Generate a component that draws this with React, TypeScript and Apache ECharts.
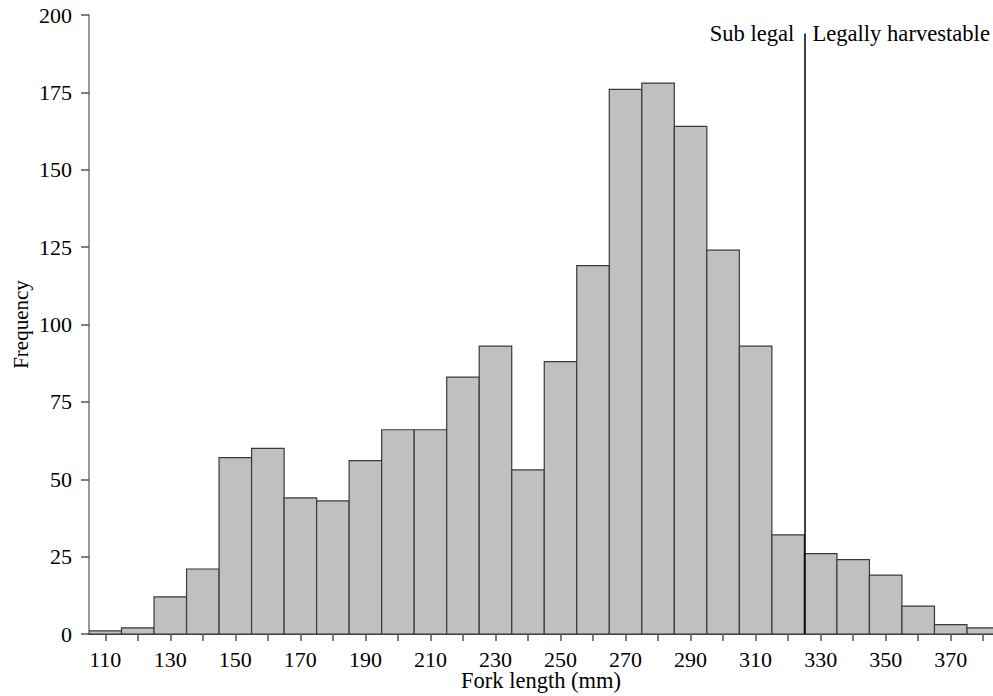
import React, { useEffect, useRef } from "react";
import * as echarts from "echarts";

const binStarts = [105, 115, 125, 135, 145, 155, 165, 175, 185, 195, 205, 215, 225, 235, 245, 255, 265, 275, 285, 295, 305, 315, 325, 335, 345, 355, 365, 375];
const binWidth = 10;
const frequencies = [1, 2, 12, 21, 57, 60, 44, 43, 56, 66, 66, 83, 93, 53, 88, 119, 176, 178, 164, 124, 93, 32, 26, 24, 19, 9, 3, 2];
const xTicks = [110, 120, 130, 140, 150, 160, 170, 180, 190, 200, 210, 220, 230, 240, 250, 260, 270, 280, 290, 300, 310, 320, 330, 340, 350, 360, 370, 380];
const xLabels = [110, 130, 150, 170, 190, 210, 230, 250, 270, 290, 310, 330, 350, 370];
const legalLimit = 325;
const legalLineTop = 194;
const leftText = "Sub legal";
const rightText = "Legally harvestable";

const FONT = "'Liberation Serif', 'Times New Roman', serif";

export default function App() {
  const ref = useRef<HTMLDivElement>(null);
  useEffect(() => {
    if (!ref.current) return;
    const chart = echarts.init(ref.current, null, { renderer: "svg" });
    const data = binStarts.map((s, i) => [s, s + binWidth, frequencies[i]]);
    chart.setOption({
      animation: false,
      backgroundColor: "#ffffff",
      grid: { left: 89, right: 0, top: 15, bottom: 62, containLabel: false, outerBoundsMode: "none" },
      xAxis: {
        type: "value",
        min: 105,
        max: 383,
        name: "Fork length (mm)",
        nameLocation: "middle",
        nameGap: 36,
        nameMoveOverlap: false,
        nameTextStyle: { fontFamily: FONT, fontSize: 22.5, lineHeight: 20, color: "#000" },
        axisLine: { show: true, onZero: false, lineStyle: { color: "#000", width: 1.5 } },
        axisTick: { show: true, length: 7, customValues: xTicks, lineStyle: { color: "#555", width: 1.5 } },
        axisLabel: { customValues: xLabels, margin: 16, lineHeight: 18, fontFamily: FONT, fontSize: 22, color: "#000" },
        splitLine: { show: false },
      },
      yAxis: {
        type: "value",
        min: 0,
        max: 200,
        interval: 25,
        name: "Frequency",
        nameLocation: "middle",
        nameGap: 58,
        nameMoveOverlap: false,
        nameRotate: 90,
        nameTextStyle: { fontFamily: FONT, fontSize: 21, color: "#000" },
        axisLine: { show: true, lineStyle: { color: "#777", width: 1.5 } },
        axisTick: { show: true, length: 8, lineStyle: { color: "#555", width: 1.5 } },
        axisLabel: { margin: 17, fontFamily: FONT, fontSize: 22, color: "#000" },
        splitLine: { show: false },
      },
      series: [
        {
          type: "custom",
          data,
          clip: true,
          renderItem: (params: any, api: any) => {
            const p0 = api.coord([api.value(0), api.value(2)]);
            const p1 = api.coord([api.value(1), 0]);
            return {
              type: "rect",
              shape: { x: p0[0], y: p0[1], width: p1[0] - p0[0], height: p1[1] - p0[1] },
              style: { fill: "#c0c0c0", stroke: "#3a3a3a", lineWidth: 1.2 },
            };
          },
          markLine: {
            silent: true,
            symbol: "none",
            label: { show: false },
            lineStyle: { color: "#000", width: 1.5, type: "solid" },
            data: [[{ coord: [legalLimit, 0] }, { coord: [legalLimit, legalLineTop] }]],
          },
          z: 2,
        },
      ],
    });
    const top = chart.convertToPixel({ gridIndex: 0 }, [legalLimit, legalLineTop]) as number[];
    chart.setOption({
      graphic: [
        {
          type: "text",
          x: top[0] - 10,
          y: top[1],
          style: { text: leftText, fontFamily: FONT, fontSize: 22.6, fill: "#000", align: "right", verticalAlign: "middle" },
        },
        {
          type: "text",
          x: top[0] + 8,
          y: top[1],
          style: { text: rightText, fontFamily: FONT, fontSize: 22.6, fill: "#000", align: "left", verticalAlign: "middle" },
        },
      ],
    });
    return () => chart.dispose();
  }, []);
  return <div ref={ref} style={{ width: 993, height: 696, position: "absolute", left: 0, top: 0 }} />;
}
